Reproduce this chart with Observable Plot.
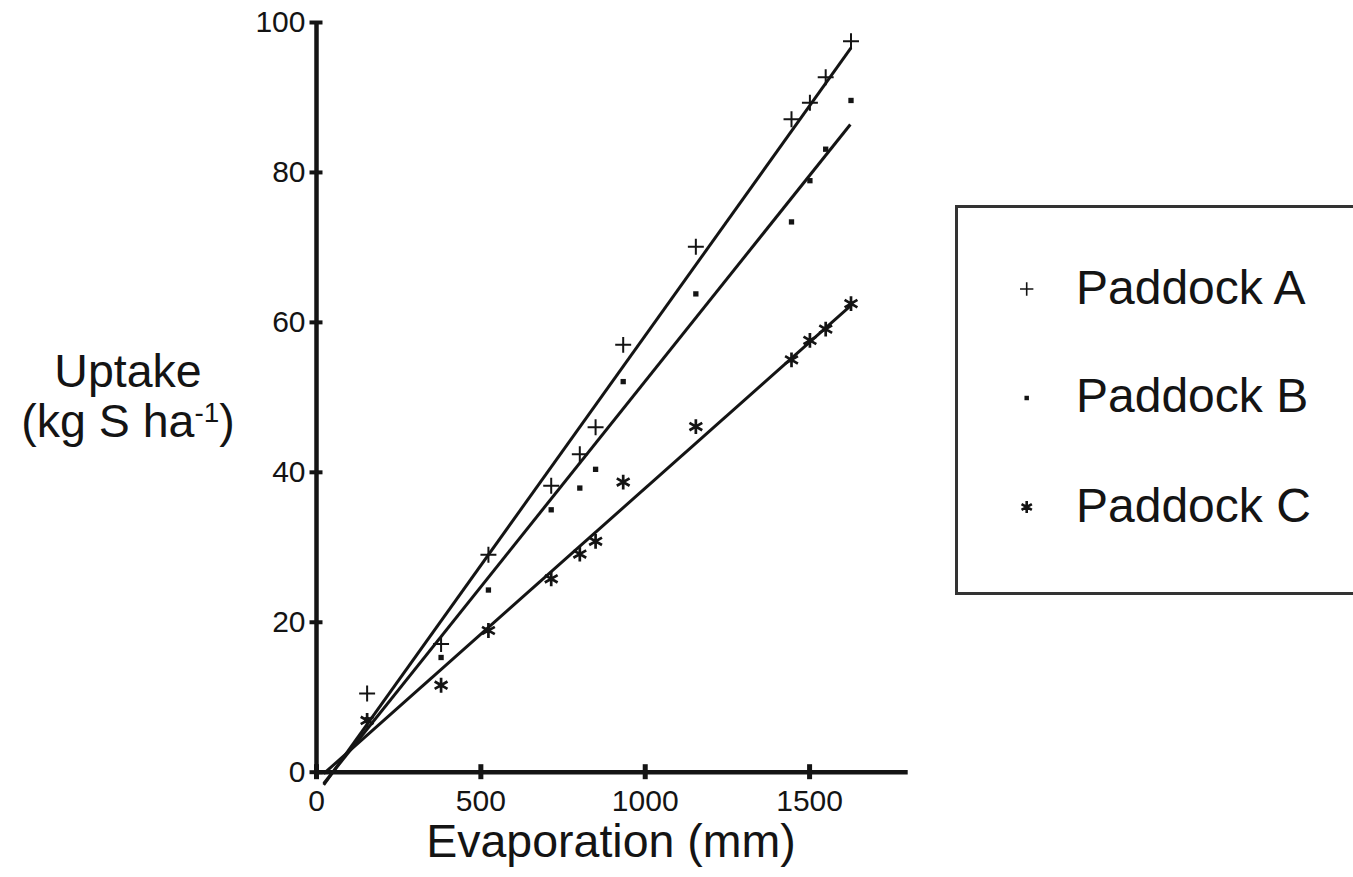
<!DOCTYPE html>
<html>
<head>
<meta charset="utf-8">
<script src="https://cdn.jsdelivr.net/npm/d3@7"></script>
<script src="https://cdn.jsdelivr.net/npm/@observablehq/plot@0.6"></script>
<style>
  html, body { margin: 0; padding: 0; background: #fff; }
  #wrap { position: relative; width: 1353px; height: 877px; overflow: hidden;
          font-family: 'Liberation Sans', Arial, Helvetica, sans-serif; color: #141414; }
  .lbl { position: absolute; white-space: nowrap; }
  #ylabel { left: 0; width: 256px; top: 345.6px; text-align: center; font-size: 46.5px; line-height: 50px; }
  #ylabel sup { font-size: 0.6em; line-height: 0; vertical-align: 15px; }
  #xlabel { left: 411px; width: 400px; top: 816px; text-align: center; font-size: 46.5px; line-height: 50px; }
  #legend { position: absolute; left: 955px; top: 205px; width: 420px; height: 390px;
            border: 3px solid #333; box-sizing: border-box; }
  .legtext { position: absolute; left: 1076px; font-size: 48px; line-height: 50px; }
</style>
</head>
<body>
<div id="wrap"></div>
<script>
// ---- data ----
const evaporation = [154, 379, 523, 714, 801, 849, 933, 1154, 1445, 1501, 1549, 1626];
const paddockA = [10.5, 17.1, 29.0, 38.2, 42.4, 46.0, 57.0, 70.1, 87.1, 89.3, 92.7, 97.5];
const paddockB = [7.0, 15.3, 24.3, 35.0, 37.9, 40.4, 52.1, 63.8, 73.4, 78.9, 83.1, 89.6];
const paddockC = [6.9, 11.6, 18.9, 25.8, 29.1, 30.8, 38.7, 46.1, 55.0, 57.6, 59.1, 62.5];
const seriesNames = ["Paddock A", "Paddock B", "Paddock C"];
// fitted lines (start and end points)
const fitStartX = [22, 22, 22];
const fitStartY = [-1.7, -1.5, -0.2];
const fitEndX = [1626, 1624, 1632];
const fitEndY = [96.6, 86.4, 62.5];
const xTicks = [0, 500, 1000, 1500];
const yTicks = [0, 20, 40, 60, 80, 100];

const seriesValues = [paddockA, paddockB, paddockC];
const points = seriesNames.flatMap((s, i) =>
  evaporation.map((e, j) => ({series: s, evap: e, uptake: seriesValues[i][j]})));
const fits = seriesNames.map((s, i) => ({series: s, x1: fitStartX[i], y1: fitStartY[i], x2: fitEndX[i], y2: fitEndY[i]}));

const ink = "#141414";
const fmt = d3.format("d");
const chart = Plot.plot({
  width: 1353,
  height: 877,
  marginLeft: 316,
  marginRight: 445.3,
  marginTop: 22,
  marginBottom: 105.3,
  x: {domain: [0, 1800]},
  y: {domain: [0, 100]},
  style: {fontFamily: "'Liberation Sans', Arial, Helvetica, sans-serif", color: ink, background: "transparent", overflow: "visible"},
  marks: [
    Plot.ruleX([0], {y1: 0, y2: 100, stroke: ink, strokeWidth: 4.5}),
    Plot.ruleY([0], {x1: 0, x2: 1800, stroke: ink, strokeWidth: 4.5}),
    Plot.axisY({ticks: yTicks, tickSize: 13, dx: 6.5, strokeWidth: 4, fill: "none", label: null}),
    Plot.axisY({ticks: yTicks, tickFormat: fmt, tickSize: 0, tickPadding: 11, fontSize: 30, label: null}),
    Plot.axisX({ticks: xTicks, tickSize: 15, dy: -7.5, strokeWidth: 5, fill: "none", label: null}),
    Plot.axisX({ticks: xTicks, tickFormat: fmt, tickSize: 0, tickPadding: 17, fontSize: 30, label: null}),
    Plot.link(fits, {x1: "x1", y1: "y1", x2: "x2", y2: "y2", stroke: ink, strokeWidth: 3}),
    Plot.dot(points.filter(d => d.series === seriesNames[1]), {x: "evap", y: "uptake", symbol: "square", r: 3, fill: ink, stroke: "none"}),
    Plot.dot(points.filter(d => d.series === seriesNames[0]), {x: "evap", y: "uptake", symbol: "plus", r: 5.2, stroke: ink, strokeWidth: 2}),
    Plot.dot(points.filter(d => d.series === seriesNames[2]), {x: "evap", y: "uptake", symbol: "asterisk", r: 7, stroke: ink, strokeWidth: 2.7})
  ]
});
chart.style.position = "absolute";
chart.style.left = "0px";
chart.style.top = "0px";
const wrap = document.getElementById("wrap");
wrap.appendChild(chart);

// axis titles
const yl = document.createElement("div");
yl.id = "ylabel"; yl.className = "lbl";
yl.innerHTML = "Uptake<br>(kg S ha<sup>-1</sup>)";
wrap.appendChild(yl);
const xl = document.createElement("div");
xl.id = "xlabel"; xl.className = "lbl";
xl.textContent = "Evaporation (mm)";
wrap.appendChild(xl);

// legend
const leg = document.createElement("div");
leg.id = "legend";
wrap.appendChild(leg);
const legTops = [263.4, 371.4, 481.4];
seriesNames.forEach((s, i) => {
  const t = document.createElement("div");
  t.className = "legtext";
  t.style.top = legTops[i] + "px";
  t.textContent = s;
  wrap.appendChild(t);
});
const legSvg = d3.select(wrap).append("svg").attr("width", 1353).attr("height", 877)
  .style("position", "absolute").style("left", "0px").style("top", "0px");
const symDefs = [
  {type: d3.symbolPlus, size: 60, fill: "none", stroke: ink, sw: 1.6},
  {type: d3.symbolSquare, size: 20, fill: ink, stroke: "none", sw: 0},
  {type: d3.symbolAsterisk, size: 100, fill: "none", stroke: ink, sw: 2.6}
];
const symY = [289, 398, 507];
seriesNames.forEach((s, i) => {
  const d = symDefs[i];
  legSvg.append("path")
    .attr("d", d3.symbol(d.type, d.size)())
    .attr("transform", `translate(1026.7,${symY[i]})`)
    .attr("fill", d.fill).attr("stroke", d.stroke).attr("stroke-width", d.sw);
});
</script>
</body>
</html>
